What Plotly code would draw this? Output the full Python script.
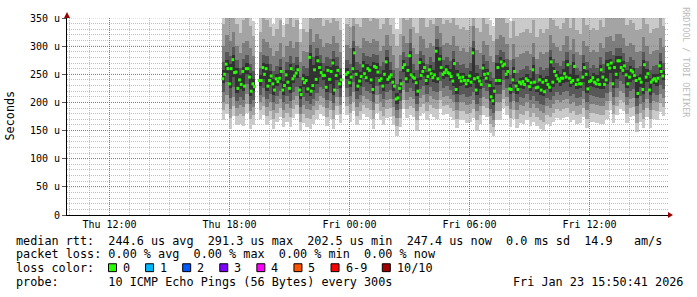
import plotly.graph_objects as go
import pandas as pd

# ---------------- data ----------------
# median RTT in microseconds, one value every 5 minutes starting Thu 17:40
median = [
    242, 250, 268, 260, 233, 260, 276, 253, 254, 225,
    240, 232, 255, 229, 260, 260, 245, 220, 233, 228,
    None, None, 239, 239, 262, 250, 260, 229, 239, 247,
    233, 222, 242, 237, 243, 255, 222, 230, 249, 236,
    225, 260, 242, 247, 252, 258, 222, 214, 242, 235,
    239, 224, 280, 220, 230, 258, 241, 274, 262, 253,
    248, 248, 227, 257, 241, 255, 270, 222, 248, 257,
    233, 240, None, None, 250, 253, 235, 245, 260, 288,
    250, 229, 238, 246, 265, 251, 244, 260, 257, 240,
    223, 264, 262, 254, 239, 242, 229, 250, 272, 241,
    245, 249, 236, 229, 206, 208, 225, 233, 262, 267,
    242, 257, 283, 249, 245, 243, 235, 220, 271, 248,
    255, 262, 239, 246, 258, 251, 244, 249, 291, 242,
    277, 262, 250, 253, 258, 253, 251, 246, 238, 269,
    223, 249, 244, 238, 245, 239, 233, 239, 247, 236,
    288, 242, 222, 244, 238, 232, 261, 250, 243, 251,
    230, 210, 203, 220, 239, 262, 239, 272, 265, 268,
    250, 255, 224, 223, 240, 255, 229, 223, 236, 233,
    237, 232, 242, 239, 228, 235, 258, 236, 226, 227,
    240, 222, 236, 219, 239, 232, 227, 272, 236, 255,
    248, 242, 238, 243, 243, 251, 245, 267, 243, 236,
    239, 264, 232, 240, 233, 233, 245, 262, 250, 224,
    237, 239, 244, 236, 233, 240, 232, 258, 245, 232,
    240, 267, 261, 270, 233, 262, 250, 274, 274, 262,
    257, 265, 249, 233, 245, 257, 254, 248, 239, 216,
    242, 236, 223, 267, 245, 251, 222, 236, 240, 242,
    238, 243, 265, 255, 247,
]

# sorted ping values (rank 1 = fastest ... rank 10 = slowest), one per 10 minutes
p1 = [168,180,152,176,160,162,158,182,152,160,
      None,170,178,160,168,152,166,174,156,166,
      156,172,180,150,164,156,152,162,170,180,
      176,158,170,152,178,164,None,178,166,184,
      160,168,180,174,170,152,182,168,160,172,
      174,160,140,156,188,172,178,174,150,176,
      182,168,180,174,170,188,178,180,174,168,
      154,168,168,164,166,172,150,162,178,174,
      146,140,168,168,190,178,156,170,154,164,
      162,168,158,166,158,152,150,162,158,166,
      172,168,172,174,166,168,162,164,174,154,
      166,166,164,162,162,170,186,164,178,188,
      184,164,174,176,148,166,154,174,154,170,
      168,183,176]
p2 = [186,198,172,194,176,180,176,198,170,178,
      None,186,194,176,184,170,182,190,172,182,
      174,188,196,166,180,172,170,178,186,196,
      192,174,186,170,194,180,None,194,182,200,
      176,184,196,190,186,170,198,184,176,188,
      190,176,158,172,204,188,194,190,168,192,
      198,184,196,190,188,204,194,196,190,184,
      170,184,184,180,182,188,168,178,194,190,
      162,156,184,184,206,194,172,186,170,180,
      178,184,174,182,174,168,166,178,174,182,
      188,184,188,190,182,184,178,180,190,170,
      182,182,180,178,178,186,202,180,194,204,
      200,180,190,192,164,182,170,190,170,186,
      184,199,192]
p3 = [200,214,188,210,190,196,192,215,184,192,
      None,200,210,192,200,186,198,206,186,198,
      190,204,212,180,196,188,186,194,202,212,
      208,190,202,186,210,196,None,210,198,218,
      192,200,212,206,202,186,214,200,192,204,
      206,192,172,188,222,204,210,206,184,208,
      214,200,212,206,204,220,210,212,206,200,
      186,200,200,196,198,204,184,194,210,206,
      176,168,200,200,222,210,188,202,186,196,
      194,200,190,198,190,184,182,194,190,198,
      204,200,204,206,198,200,194,196,206,186,
      198,198,196,194,194,202,218,196,210,220,
      216,196,206,208,180,198,186,206,186,202,
      200,215,208]
p4 = [218,236,208,228,202,210,205,232,198,205,
      None,214,226,206,215,200,212,220,200,212,
      202,218,228,192,210,202,198,206,216,228,
      224,204,216,199,224,210,None,226,211,236,
      206,214,228,220,216,200,230,215,206,218,
      222,206,186,202,238,218,226,220,198,224,
      230,215,228,220,218,238,226,229,222,214,
      200,214,215,210,212,218,198,208,226,220,
      188,182,215,215,240,226,200,216,200,210,
      208,215,205,212,203,198,196,208,204,212,
      218,214,219,221,212,215,208,210,221,200,
      213,212,209,208,208,216,236,209,226,238,
      232,209,221,224,193,212,200,221,199,216,
      214,231,223]
p5 = [234,252,225,245,217,224,221,250,212,220,
      None,230,242,221,231,214,229,235,214,228,
      217,234,244,206,227,216,212,222,233,245,
      240,219,233,214,240,225,None,242,227,252,
      221,230,243,236,232,215,246,231,221,233,
      237,221,198,217,254,234,241,235,212,240,
      247,231,243,236,234,254,242,245,238,230,
      215,230,231,225,228,234,214,224,242,235,
      202,195,231,231,257,242,215,232,215,225,
      224,231,220,228,218,214,211,224,219,228,
      234,230,235,237,228,231,224,225,237,216,
      229,228,225,224,224,232,253,225,242,254,
      249,225,237,240,208,228,215,237,214,232,
      230,247,239]
p6 = [258,276,268,284,262,248,263,270,253,241,
      None,248,270,268,255,241,250,263,238,257,
      268,255,266,230,250,247,288,266,282,270,
      256,265,263,278,265,248,None,261,253,296,
      258,254,273,268,265,272,270,250,258,280,
      257,244,216,241,275,265,291,253,243,279,
      270,254,266,257,299,285,261,266,259,277,
      257,252,253,247,255,296,252,246,269,259,
      238,228,270,280,276,263,232,263,237,244,
      245,250,243,266,235,248,244,247,280,263,
      256,251,259,275,251,272,248,241,270,258,
      247,252,248,266,253,275,278,270,282,282,
      273,257,265,262,247,250,275,259,244,250,
      251,273,255]
p7 = [272,290,282,298,276,262,277,284,268,256,
      None,262,284,282,269,256,265,278,252,272,
      283,270,280,246,264,262,302,280,296,284,
      270,280,278,292,280,262,None,276,268,310,
      272,268,288,282,280,286,284,264,272,294,
      272,258,232,256,290,280,305,268,258,292,
      284,268,280,272,312,298,276,280,274,292,
      272,266,268,262,270,310,266,260,284,274,
      254,244,284,294,290,278,248,278,252,258,
      260,264,258,280,250,263,258,262,294,278,
      270,265,274,290,266,286,262,256,284,272,
      262,266,262,280,268,290,292,284,296,296,
      288,272,280,276,262,264,290,274,258,265,
      266,288,270]
p8 = [300,320,310,325,300,288,305,310,296,282,
      None,290,312,308,296,282,292,306,280,300,
      310,296,308,272,292,290,330,308,322,312,
      298,306,304,318,306,290,None,302,296,335,
      300,296,314,310,306,312,310,292,300,320,
      300,284,262,284,318,306,330,296,286,318,
      312,296,306,300,335,324,302,306,302,318,
      300,292,296,290,298,335,294,288,310,302,
      282,272,312,320,316,304,276,304,280,286,
      288,292,286,306,278,290,286,290,320,306,
      298,292,302,318,294,312,290,284,310,300,
      290,294,290,306,296,316,318,310,322,322,
      314,300,306,302,290,292,316,300,286,292,
      294,314,298]
p9 = [340,360,352,360,340,324,346,352,336,318,
      None,326,350,346,334,318,330,346,316,340,
      350,334,346,308,330,326,360,348,360,352,
      336,346,342,358,344,328,None,340,334,360,
      340,334,354,350,344,352,348,330,340,360,
      338,322,300,322,358,346,360,334,324,356,
      352,334,346,340,360,360,340,346,342,356,
      338,330,334,328,336,360,332,326,350,340,
      320,310,352,360,356,342,314,344,318,324,
      326,330,324,346,316,330,324,330,360,346,
      336,330,342,356,332,352,328,322,350,338,
      328,332,328,346,334,356,358,350,360,360,
      354,338,346,342,328,330,356,340,324,330,
      332,354,336]
p10 = [380,400,390,400,370,350,385,390,372,345,
       None,352,390,386,366,340,356,380,338,372,
       388,368,384,330,356,350,400,386,400,390,
       372,384,380,398,382,356,None,376,368,400,
       378,370,392,388,380,390,386,362,376,400,
       372,350,330,352,398,384,400,370,356,394,
       390,370,384,376,400,400,378,384,380,396,
       374,362,370,360,372,400,366,358,388,376,
       346,336,392,400,396,380,344,382,350,358,
       360,366,358,384,350,366,358,366,400,384,
       372,366,380,396,368,392,364,356,390,374,
       362,368,362,384,370,396,398,390,400,400,
       394,374,384,380,362,366,396,376,356,366,
       368,394,372]

x_tick_vals = ["2026-01-22 12:00", "2026-01-22 18:00", "2026-01-23 00:00",
               "2026-01-23 06:00", "2026-01-23 12:00"]
x_tick_text = ["Thu 12:00", "Thu 18:00", "Fri 00:00", "Fri 06:00", "Fri 12:00"]
y_tick_vals = [0, 50, 100, 150, 200, 250, 300, 350]
y_tick_text = ["0", "50 u", "100 u", "150 u", "200 u", "250 u", "300 u", "350 u"]

stats_rtt = "median rtt:  244.6 us avg  291.3 us max  202.5 us min  247.4 us now  0.0 ms sd  14.9   am/s"
stats_loss = "packet loss: 0.00 % avg  0.00 % max  0.00 % min  0.00 % now"
probe_text = "probe:       10 ICMP Echo Pings (56 Bytes) every 300s"
stamp_text = "Fri Jan 23 15:50:41 2026"
loss_labels = ["0", "1", "2", "3", "4", "5", "6-9", "10/10"]
loss_colors = ["#26ff00", "#00b8ff", "#0059ff", "#7e00ff", "#ff00ff", "#ff5500", "#ff0000", "#a10000"]
smoke_colors = ["#cacaca", "#a4a4a4", "#7e7e7e", "#585858", "#323232"]

# ---------------- figure ----------------
W, H = 697, 297
L, R, T, B = 67, 29, 15, 82
PW, PH = W - L - R, H - T - B
MONO = "DejaVu Sans Mono"
LEG = 11.8

start = pd.Timestamp("2026-01-22 17:40")
t_med = [start + pd.Timedelta(minutes=5 * j) for j in range(len(median))]
t_bin = [start + pd.Timedelta(minutes=10 * k + 2.5) for k in range(len(p1))]

fig = go.Figure()
pairs = [(p1, p10), (p2, p9), (p3, p8), (p4, p7), (p5, p6)]
for (lo, hi), col in zip(pairs, smoke_colors):
    base, h = [], []
    for a, b in zip(lo, hi):
        if a is None or b is None:
            base.append(None); h.append(None)
        else:
            base.append(a); h.append(b - a)
    # slightly wider than the 10-minute step so neighbouring columns leave no seams
    fig.add_trace(go.Bar(x=t_bin, y=h, base=base, width=650000,
                         marker=dict(color=col, line=dict(width=0)),
                         hoverinfo="skip", showlegend=False))

fig.add_trace(go.Scatter(x=t_med, y=median, mode="markers",
                         marker=dict(symbol="line-ew", size=2, color=loss_colors[0],
                                     line=dict(width=3, color=loss_colors[0])),
                         hoverinfo="skip", showlegend=False))

grid_minor = "rgba(140,140,140,0.55)"
grid_major = "rgba(230,40,40,0.45)"

fig.update_layout(
    width=W, height=H,
    margin=dict(l=L, r=R, t=T, b=B, pad=0),
    paper_bgcolor="white", plot_bgcolor="white",
    barmode="overlay", bargap=0, showlegend=False,
    font=dict(family=MONO, size=10, color="black"),
    xaxis=dict(type="date",
               range=["2026-01-22 09:52:30", "2026-01-23 15:55:30"],
               tickmode="array", tickvals=x_tick_vals, ticktext=x_tick_text,
               showgrid=True, gridcolor=grid_major, griddash="1px,1px", gridwidth=1,
               minor=dict(tickmode="linear", tick0="2026-01-22 00:00", dtick=3600000,
                          showgrid=True, gridcolor=grid_minor, griddash="1px,1px", gridwidth=1),
               showline=True, linecolor="black", linewidth=1, ticks="",
               zeroline=False, tickfont=dict(family=MONO, size=10)),
    yaxis=dict(range=[0, 350], tickmode="array", tickvals=y_tick_vals, ticktext=y_tick_text,
               showgrid=True, gridcolor=grid_major, griddash="1px,1px", gridwidth=1,
               minor=dict(tickmode="linear", tick0=0, dtick=10,
                          showgrid=True, gridcolor=grid_minor, griddash="1px,1px", gridwidth=1),
               showline=True, linecolor="black", linewidth=1,
               ticks="outside", ticklen=4, tickcolor="#555",
               zeroline=False, tickfont=dict(family=MONO, size=10)),
)

# major grid lines on top of the smoke (rrdtool draws its grid over the graph)
for tv in x_tick_vals:
    fig.add_shape(type="line", xref="x", yref="paper", x0=tv, x1=tv, y0=0, y1=1,
                  line=dict(color="rgba(255,0,0,0.30)", width=1, dash="1px,1px"), layer="above")
for yv in y_tick_vals[1:]:
    fig.add_shape(type="line", xref="paper", yref="y", x0=0, x1=1, y0=yv, y1=yv,
                  line=dict(color="rgba(255,0,0,0.30)", width=1, dash="1px,1px"), layer="above")


def px(x):
    return (x - L) / PW


def py(y):
    return (T + PH - y) / PH


def nb(s):
    return s.replace(" ", "\u00a0")


def text(s, x, y, size=LEG, color="black", xanchor="left", angle=0):
    fig.add_annotation(text=nb(s), x=px(x), y=py(y), xref="paper", yref="paper",
                       xanchor=xanchor, yanchor="middle", showarrow=False,
                       textangle=angle, borderpad=0, borderwidth=0,
                       font=dict(family=MONO, size=size, color=color))


# axis arrows
fig.add_shape(type="path", xref="paper", yref="paper", xsizemode="pixel", ysizemode="pixel",
              xanchor=1, yanchor=0, path="M 0 -3 L 5 0 L 0 3 Z",
              fillcolor="#990000", line=dict(width=0), layer="above")
fig.add_shape(type="path", xref="paper", yref="paper", xsizemode="pixel", ysizemode="pixel",
              xanchor=0, yanchor=1, path="M -3 0 L 3 0 L 0 6 Z",
              fillcolor="#990000", line=dict(width=0), layer="above")

# y-axis title and rrdtool credit
text("Seconds", 10, 114, xanchor="center", angle=-90)
text("RRDTOOL / TOBI OETIKER", 686, 60, size=8.3, color="#bbbbbb", xanchor="center", angle=90)

# legend block
text(stats_rtt, 15.8, 241)
text(stats_loss, 15.8, 255)
text("loss color:", 15.8, 269)
text(probe_text, 15.8, 283)
text(stamp_text, 512.5, 283)

bx = 108.0
for lab, col in zip(loss_labels, loss_colors):
    fig.add_shape(type="rect", xref="paper", yref="paper",
                  x0=px(bx + 0.5), x1=px(bx + 8.5), y0=py(264.5), y1=py(272.5),
                  fillcolor=col, line=dict(color="black", width=1), layer="above")
    text(lab, bx + 15, 269)
    bx += 15.5 + len(lab) * 7.09 + 14.5

fig.write_html("out.html")
